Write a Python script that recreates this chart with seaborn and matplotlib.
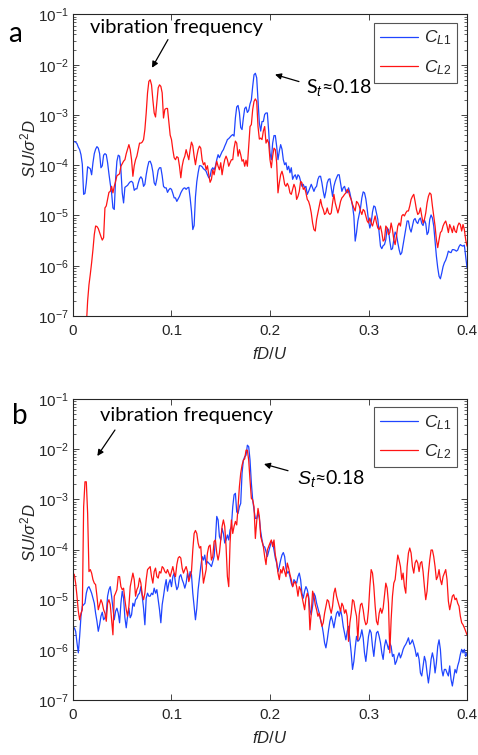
import numpy as np
import pandas as pd
import matplotlib
matplotlib.use("Agg")
import matplotlib.pyplot as plt
from matplotlib.ticker import FixedLocator, NullLocator, LogLocator
import seaborn as sns

nan = np.nan
# uniform FFT frequency bins fD/U
freq = np.linspace(0.0, 0.4, 297)

# ---- panel a : log10 of SU/sigma^2 D ----
a_cl1_low = [-3.52,-3.53,-3.54,-3.57,-3.64,-3.69,-3.79,-3.98,-4.58,-4.56,
 -4.35,-4.03,-4.05,-4.07,-4.19,-3.95,-3.77,-3.68,-3.63,-3.66,
 -3.77,-4.05,-4.01,-3.80,-3.77,-3.79,-3.95,-4.17,-4.37,-4.55,
 -4.85,-4.88,-4.28,-3.92,-3.80,-3.82,-4.09,-4.55,-4.75,-4.44,
 -4.42,-4.40,-4.36,-4.33,-4.32,-4.35,-4.50,-4.47,-4.47,-4.36,
 -4.27,-4.23,-4.27,-4.42,-4.38,-4.19,-4.04,-3.93,-3.92,-3.99,
 -4.13,-4.35,-4.40,-4.27,-4.10,-4.05,-4.05,-4.21,-4.42,-4.45,
 -4.45,-4.54,-4.49,-4.46,-4.48,-4.56,-4.65,-4.65,-4.72,-4.67,
 -4.62,-4.55,-4.50,-4.46,-4.45,-4.48,-4.45,-4.44,-4.65,-4.91,
 -5.28,-5.20,-4.63,-4.33,-4.15,-4.01,-4.01,-4.03,-4.07,-4.09,
 -4.12,-4.19,-4.25,-4.22,-4.09,-4.05,-4.09,-4.02,-3.89,-3.79,
 -3.85,-3.79,-3.73,-3.69,-3.62,-3.56,-3.49,-3.47,-3.44,-3.41,
 -3.39,-3.42,-3.06,-2.84,-2.81,-2.95,-3.25,-3.29,-3.06,-2.87,
 -2.84,-2.95,-2.91,-2.78,-2.70,-2.43,-2.20,-2.17,-2.26,-2.70,
 -3.16,-3.32,-3.13,-3.13,-2.99,-2.96]
a_cl1_high = [-2.96,-3.32,-3.76,-3.89,-3.56,-3.41,-3.41,-3.62,-3.89,-3.72,
 -3.59,-3.68,-3.89,-3.99,-3.95,-4.09,-4.02,-4.15,-4.05,-4.28,
 -4.22,-4.19,-4.28,-4.19,-4.22,-4.32,-4.42,-4.38,-4.45,-4.42,
 -4.58,-4.52,-4.45,-4.38,-4.45,-4.52,-4.45,-4.42,-4.28,-4.22,
 -4.22,-4.35,-4.52,-4.65,-4.52,-4.35,-4.28,-4.27,-4.45,-4.62,
 -4.42,-4.32,-4.25,-4.19,-4.19,-4.35,-4.52,-4.45,-4.42,-4.52,
 -4.55,-4.45,-4.55,-4.68,-4.81,-5.01,-5.51,-5.34,-5.11,-4.98,
 -4.85,-4.65,-4.53,-4.55,-4.67,-4.87,-5.10,-5.25,-5.15,-4.93,
 -4.81,-4.83,-4.95,-5.08,-5.34,-5.61,-5.66,-5.60,-5.58,-5.48,
 -5.25,-5.28,-5.51,-5.68,-5.66,-5.48,-5.33,-5.38,-5.54,-5.68,
 -5.78,-5.74,-5.58,-5.41,-5.25,-5.11,-5.11,-5.26,-5.33,-5.21,
 -5.09,-5.06,-5.13,-5.16,-5.08,-5.05,-5.16,-5.20,-5.09,-5.16,
 -5.38,-5.33,-5.08,-4.99,-5.05,-5.21,-5.51,-5.81,-6.04,-6.21,
 -6.26,-6.15,-6.02,-5.94,-5.89,-5.81,-5.71,-5.73,-5.74,-5.68,
 -5.68,-5.69,-5.71,-5.69,-5.62,-5.58,-5.60,-5.61,-5.59,-5.81,
 -6.04]
a_cl2_low = [nan]*10 + [-7.20,-6.70,-6.38,-6.17,-5.94,-5.68,-5.38,-5.21,-5.22,-5.26,
 -5.34,-5.42,-5.49,-5.44,-4.85,-4.81,-4.68,-4.54,-4.52,-4.42,
 -4.55,-4.42,-4.32,-4.21,-4.19,-4.17,-4.02,-3.97,-3.92,-3.89,
 -3.77,-3.68,-3.59,-3.69,-3.89,-4.22,-4.01,-3.89,-3.82,-3.69,
 -3.56,-3.56,-3.54,-3.49,-3.29,-2.96,-2.56,-2.33,-2.30,-2.40,
 -2.70,-2.96,-3.04,-2.76,-2.46,-2.40,-2.43,-2.56,-3.06,-2.89,
 -2.87,-2.87,-3.13,-3.40,-3.49,-3.69,-3.85,-3.89,-3.83,-3.85,
 -4.02,-4.25,-4.02,-3.89,-3.82,-3.69,-3.79,-3.89,-3.69,-3.54,
 -3.61,-3.82,-3.99,-3.82,-3.69,-3.62,-3.66,-3.89,-3.99,-3.95,
 -4.09,-4.01,-4.19,-4.34,-4.28,-4.09,-4.19,-4.05,-3.92,-4.02,
 -4.09,-3.95,-4.19,-4.02,-3.89,-3.82,-3.89,-4.02,-3.95,-3.89,
 -3.89,-3.66,-3.52,-3.56,-3.82,-3.69,-3.79,-3.92,-3.89,-4.02,
 -3.90,-4.02,-3.62,-3.23,-3.19,-2.89,-2.73,-2.68,-2.73,-3.23,
 -3.48,-3.46,-3.49,-3.32,-3.23,-3.56]
a_cl2_high = [-3.49,-3.56,-3.89,-4.05,-3.82,-3.66,-3.69,-3.95,-4.55,-4.35,
 -4.19,-4.12,-4.22,-4.38,-4.42,-4.36,-4.42,-4.55,-4.58,-4.48,
 -4.38,-4.45,-4.68,-4.62,-4.52,-4.32,-4.35,-4.48,-4.45,-4.55,
 -4.68,-4.72,-4.81,-4.95,-5.15,-5.28,-5.31,-5.08,-4.95,-4.81,
 -4.68,-4.81,-4.88,-4.98,-4.95,-4.85,-4.95,-4.98,-4.95,-4.75,
 -4.58,-4.75,-4.85,-4.95,-4.85,-4.72,-4.65,-4.62,-4.58,-4.55,
 -4.48,-4.52,-4.62,-4.68,-4.78,-4.85,-4.91,-4.72,-4.75,-4.81,
 -4.91,-4.98,-4.88,-4.91,-5.01,-5.11,-5.15,-5.05,-5.15,-5.21,
 -5.11,-5.01,-5.15,-5.25,-5.28,-5.21,-5.34,-5.51,-5.48,-5.21,
 -5.25,-5.38,-5.34,-5.15,-5.28,-5.48,-5.58,-5.41,-5.21,-5.15,
 -5.21,-5.01,-4.98,-5.01,-4.95,-4.91,-4.91,-4.81,-4.68,-4.62,
 -4.58,-4.72,-4.88,-4.98,-4.95,-4.85,-5.01,-5.15,-5.08,-4.95,
 -4.75,-4.62,-4.55,-4.58,-4.81,-5.01,-5.21,-5.48,-5.64,-5.48,
 -5.34,-5.31,-5.21,-5.15,-5.11,-5.21,-5.34,-5.18,-5.25,-5.34,
 -5.21,-5.31,-5.34,-5.21,-5.15,-5.18,-5.31,-5.18,-5.28,-5.48,
 -5.61]

# ---- panel b ----
b_cl1_low = [-5.60,-5.56,-5.63,-5.86,-6.06,-5.73,-5.33,-5.13,-5.10,-5.07,
 -4.87,-4.77,-4.74,-4.80,-4.87,-4.97,-5.07,-5.27,-5.43,-5.63,
 -5.50,-5.33,-5.25,-5.40,-5.36,-5.27,-4.93,-4.80,-4.74,-4.93,
 -5.17,-5.40,-5.23,-5.17,-5.27,-5.46,-5.07,-4.83,-4.97,-5.36,
 -5.56,-5.33,-5.17,-5.36,-5.30,-5.07,-5.13,-5.00,-4.97,-4.90,
 -4.87,-4.74,-4.93,-5.17,-5.50,-4.97,-4.87,-4.93,-4.93,-4.87,
 -4.90,-4.77,-4.87,-4.80,-5.00,-5.20,-5.46,-5.10,-4.93,-4.74,
 -4.60,-4.83,-4.67,-4.60,-4.74,-4.54,-4.47,-4.67,-4.80,-4.74,
 -4.54,-4.50,-4.60,-4.67,-4.77,-4.67,-4.47,-4.60,-4.44,-4.50,
 -4.87,-5.13,-5.40,-5.17,-4.80,-4.57,-4.34,-4.14,-4.21,-4.11,
 -4.30,-4.24,-4.27,-4.30,-4.34,-4.24,-4.14,-3.81,-3.34,-3.41,
 -3.74,-3.81,-3.58,-3.68,-3.87,-3.81,-3.71,-3.81,-3.61,-3.54,
 -3.15,-2.91,-2.88,-3.25,-3.28,-3.15,-3.08,-2.48,-2.22,-2.15,
 -2.12,-1.92,-1.95,-2.22,-2.68,-3.01,-3.21,-3.38,-3.38,-3.27,
 -3.38,-3.64,-3.81,-3.93,-3.95,-4.04]
b_cl1_high = [-4.14,-4.04,-3.94,-3.84,-3.87,-4.01,-4.17,-4.27,-4.44,-4.34,
 -4.21,-4.11,-4.06,-4.14,-4.37,-4.47,-4.44,-4.54,-4.67,-4.74,
 -4.60,-4.64,-4.67,-4.54,-4.47,-4.60,-4.87,-4.97,-4.83,-4.74,
 -4.80,-4.93,-5.20,-5.30,-5.13,-4.87,-4.93,-5.07,-5.17,-5.27,
 -5.40,-5.50,-5.66,-5.86,-5.96,-5.80,-5.60,-5.43,-5.33,-5.43,
 -5.56,-5.40,-5.27,-5.23,-5.33,-5.20,-5.33,-5.53,-5.66,-5.80,
 -5.63,-5.53,-5.80,-6.06,-6.39,-6.23,-5.96,-5.73,-5.83,-5.80,
 -5.73,-5.60,-5.76,-6.06,-6.23,-5.99,-5.73,-5.60,-5.66,-5.93,
 -6.13,-5.86,-5.66,-5.63,-5.73,-5.86,-6.06,-6.19,-5.93,-5.80,
 -5.89,-5.99,-5.86,-5.93,-6.13,-6.09,-6.29,-6.23,-6.13,-6.06,
 -6.16,-6.09,-5.99,-5.93,-5.89,-5.83,-5.76,-5.89,-5.86,-5.80,
 -5.89,-5.99,-6.13,-6.06,-6.19,-6.46,-6.52,-6.32,-6.13,-6.23,
 -6.46,-6.66,-6.46,-6.19,-6.06,-6.19,-6.46,-6.26,-5.93,-5.80,
 -5.99,-6.39,-6.52,-6.39,-6.39,-6.46,-6.52,-6.32,-6.59,-6.72,
 -6.56,-6.39,-6.46,-6.32,-6.23,-6.09,-5.99,-6.06,-5.99,-6.13,
 -6.06]
b_cl2_low = [-4.47,-4.50,-4.67,-4.93,-5.23,-5.40,-5.27,-5.20,-3.15,-2.65,
 -2.65,-3.28,-4.44,-4.40,-4.47,-4.60,-4.67,-4.70,-4.93,-5.20,
 -5.10,-5.00,-5.07,-5.20,-5.27,-5.43,-5.07,-5.00,-5.10,-5.40,
 -5.70,-4.93,-4.87,-4.80,-4.54,-4.54,-4.74,-4.80,-4.77,-5.00,
 -5.20,-5.33,-5.13,-4.74,-4.60,-4.47,-4.60,-4.93,-4.80,-4.74,
 -4.57,-4.67,-4.90,-5.00,-4.87,-4.60,-4.40,-4.37,-4.34,-4.54,
 -4.67,-4.44,-4.37,-4.54,-4.57,-4.44,-4.47,-4.34,-4.37,-4.44,
 -4.47,-4.40,-4.47,-4.54,-4.44,-4.34,-4.47,-4.54,-4.30,-4.17,
 -4.14,-4.17,-4.37,-4.47,-4.40,-4.34,-4.44,-4.64,-4.54,-4.44,
 -4.01,-3.68,-3.62,-3.68,-3.87,-3.97,-3.94,-4.34,-4.67,-4.54,
 -4.40,-4.07,-3.94,-3.91,-4.21,-4.14,-3.84,-3.81,-4.07,-4.21,
 -4.07,-3.81,-3.54,-3.41,-3.54,-3.94,-4.54,-4.74,-3.87,-3.41,
 -3.68,-3.54,-3.44,-3.51,-3.15,-2.75,-2.48,-2.32,-2.22,-2.19,
 -2.02,-2.02,-2.22,-2.62,-2.98,-3.01,-3.15,-3.78,-3.44,-3.18,
 -3.34,-3.74,-3.84,-3.94,-4.14,-4.30]
b_cl2_high = [-4.01,-3.94,-3.87,-3.81,-3.94,-3.81,-4.11,-4.24,-4.47,-4.60,
 -4.40,-4.47,-4.34,-4.44,-4.54,-4.27,-4.37,-4.50,-4.60,-4.74,
 -4.67,-4.64,-4.74,-4.93,-4.74,-4.80,-4.93,-5.07,-5.20,-4.97,
 -4.87,-4.97,-5.60,-5.27,-4.83,-4.93,-5.10,-5.20,-5.33,-5.27,
 -5.40,-5.53,-5.46,-5.27,-5.13,-5.00,-5.03,-5.17,-5.27,-5.13,
 -4.87,-4.77,-4.93,-5.03,-5.13,-5.23,-5.07,-5.13,-5.27,-5.20,
 -5.33,-5.83,-5.46,-5.27,-5.00,-5.03,-5.20,-5.33,-5.80,-5.30,
 -5.10,-5.07,-5.20,-5.40,-5.50,-5.46,-5.20,-4.74,-4.40,-4.47,
 -4.74,-5.13,-5.43,-5.50,-5.27,-5.17,-5.27,-5.17,-4.93,-4.67,
 -4.77,-5.07,-6.06,-5.40,-4.93,-4.67,-4.60,-4.34,-4.11,-4.21,
 -4.34,-4.60,-4.47,-4.74,-4.87,-4.34,-4.07,-3.97,-4.07,-4.34,
 -4.47,-4.27,-4.21,-4.27,-4.44,-4.27,-4.24,-4.44,-4.74,-5.00,
 -4.83,-4.47,-4.21,-4.01,-4.01,-4.14,-4.34,-4.60,-4.54,-4.40,
 -4.60,-4.70,-4.54,-4.47,-4.40,-4.60,-5.03,-5.20,-5.07,-4.93,
 -4.90,-5.00,-4.97,-5.07,-5.13,-5.33,-5.46,-5.50,-5.56,-5.63,
 -5.70]

series_labels = [r"$\mathit{C_{L1}}$", r"$\mathit{C_{L2}}$"]
series_colors = ["#1f45ff", "#ff1414"]
x_ticks = [0, 0.1, 0.2, 0.3, 0.4]
x_ticklabels = ["0", "0.1", "0.2", "0.3", "0.4"]

sns.set_style("ticks")
plt.rcParams["font.family"] = ["Liberation Sans", "DejaVu Sans"]
plt.rcParams["mathtext.fontset"] = "custom"
plt.rcParams["mathtext.rm"] = "Liberation Sans"
plt.rcParams["mathtext.it"] = "Liberation Sans:italic"
plt.rcParams["mathtext.bf"] = "Liberation Sans:bold"

AX = "#262626"
fig = plt.figure(figsize=(4.78, 7.55), dpi=100)
ax1 = fig.add_axes([0.1527, 0.5815, 0.8243, 0.3993])
ax2 = fig.add_axes([0.1527, 0.0728, 0.8243, 0.3987])


def draw(ax, cl1, cl2):
    df = pd.DataFrame({
        "f": np.concatenate([freq, freq]),
        "S": np.concatenate([10.0 ** np.array(cl1, dtype=float),
                             10.0 ** np.array(cl2, dtype=float)]),
        "series": [series_labels[0]] * len(freq) + [series_labels[1]] * len(freq),
    })
    sns.lineplot(data=df, x="f", y="S", hue="series", hue_order=series_labels,
                 palette=series_colors, estimator=None, sort=False,
                 linewidth=0.9, ax=ax)
    ax.set_yscale("log")
    ax.set_xlim(0, 0.4)
    ax.set_ylim(1e-7, 1e-1)
    ax.xaxis.set_major_locator(FixedLocator(x_ticks))
    ax.set_xticklabels(x_ticklabels)
    ax.xaxis.set_minor_locator(NullLocator())
    ax.yaxis.set_major_locator(LogLocator(base=10, numticks=10))
    ax.yaxis.set_minor_locator(LogLocator(base=10, subs=np.arange(2, 10), numticks=20))
    ax.tick_params(which="both", direction="in", top=True, right=True,
                   color=AX, labelcolor=AX, labelsize=11)
    ax.tick_params(which="major", length=4, width=0.6)
    ax.tick_params(which="minor", length=2.2, width=0.5)
    ax.tick_params(axis="x", pad=6)
    ax.tick_params(axis="y", pad=3)
    for s in ax.spines.values():
        s.set_color(AX)
        s.set_linewidth(0.8)
        s.set_visible(True)
    ax.set_xlabel(r"$\mathit{fD/U}$", fontsize=12, color=AX)
    ax.set_ylabel(r"$\mathit{SU/\sigma^2D}$", fontsize=12, color=AX)
    ax.xaxis.set_label_coords(0.5, -0.10)
    ax.yaxis.set_label_coords(-0.089, 0.555)
    h, l = ax.get_legend_handles_labels()
    leg = ax.legend(h, l, loc="upper right", bbox_to_anchor=(0.975, 0.973),
                    borderaxespad=0, frameon=True, fancybox=False,
                    edgecolor="#555555", framealpha=1, fontsize=12.5,
                    handlelength=2.2, handletextpad=0.3, borderpad=0.35,
                    labelspacing=0.6)
    leg.get_frame().set_linewidth(0.8)


draw(ax1, a_cl1_low + a_cl1_high, a_cl2_low + a_cl2_high)
draw(ax2, b_cl1_low + b_cl1_high, b_cl2_low + b_cl2_high)

TF = ["Lato", "DejaVu Sans"]
arrow = dict(arrowstyle="-|>", color="k", lw=0.9, mutation_scale=9,
             shrinkA=0, shrinkB=0)

# panel a annotations
ax1.text(0.0173, 10 ** -1.259, "vibration frequency", ha="left", va="center",
         fontsize=14.5, family=TF, color="k")
ax1.annotate("", xy=(0.0802, 10 ** -2.06), xytext=(0.0964, 10 ** -1.50),
             arrowprops=arrow)
ax1.annotate("", xy=(0.2051, 10 ** -2.195), xytext=(0.2294, 10 ** -2.335),
             arrowprops=arrow)
ax1.text(0.2362, 10 ** -2.454, r"S$_{t}$≈0.18", ha="left", va="center",
         fontsize=14, family=TF, color="k")
fig.text(8 / 478, 1 - 34.5 / 755, "a", ha="left", va="center", fontsize=20,
         family=TF, color="k")

# panel b annotations
ax2.text(0.0274, 10 ** -1.319, "vibration frequency", ha="left", va="center",
         fontsize=14.5, family=TF, color="k")
ax2.annotate("", xy=(0.0247, 10 ** -2.136), xytext=(0.0426, 10 ** -1.618),
             arrowprops=arrow)
ax2.annotate("", xy=(0.1939, 10 ** -2.296), xytext=(0.2183, 10 ** -2.429),
             arrowprops=arrow)
ax2.text(0.2274, 10 ** -2.575, r"$S_{t}$≈0.18", ha="left", va="center",
         fontsize=14, family=TF, color="k")
fig.text(12 / 478, 1 - 416 / 755, "b", ha="left", va="center", fontsize=20,
         family=TF, color="k")

fig.savefig("out.png", dpi=100, facecolor="white")
